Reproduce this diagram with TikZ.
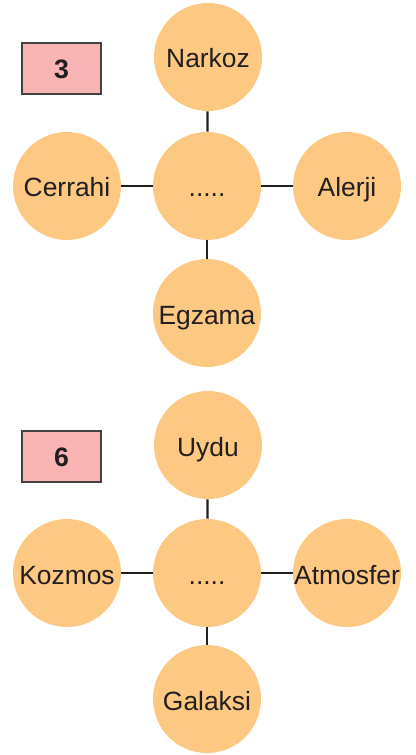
\documentclass[tikz,border=0pt]{standalone}
\usepackage{fontspec}
\setmainfont{Liberation Sans}
\definecolor{peach}{HTML}{FCC882}
\definecolor{pinkbox}{HTML}{F8B5B4}
\definecolor{ink}{HTML}{231F20}
\begin{document}
\begin{tikzpicture}[x=0.75pt,y=-0.75pt,
  bub/.style={circle,fill=peach,minimum size=81pt,inner sep=0pt,text=ink,font=\fontsize{19.8}{22}\selectfont,text height=16.5pt,text depth=0pt},
  numbox/.style={draw=ink!85,line width=0.8pt,fill=pinkbox,minimum width=59.25pt,minimum height=38.25pt,inner sep=0pt,text=ink,font=\fontsize{20}{22}\selectfont\bfseries,text height=14.3pt,text depth=0pt},
  link/.style={draw=ink,line width=1.7pt}]
\useasboundingbox (0,0) rectangle (415,755);
% group 1
\node[numbox] (b1) at (61.5,68.5) {3};
\node[bub] (c1) at (207,186) {.....};
\node[bub] (n1) at (208,57) {Narkoz};
\node[bub] (w1) at (67,186) {Cerrahi};
\node[bub] (e1) at (347,186) {Alerji};
\node[bub] (s1) at (207,313) {Egzama};
\draw[link] (n1) -- (c1);
\draw[link] (w1) -- (c1);
\draw[link] (e1) -- (c1);
\draw[link] (s1) -- (c1);
% group 2
\node[numbox] (b2) at (61.5,456.5) {6};
\node[bub] (c2) at (207,573) {.....};
\node[bub] (n2) at (208,445) {Uydu};
\node[bub] (w2) at (67,573) {Kozmos};
\node[bub] (e2) at (347,573) {Atmosfer};
\node[bub] (s2) at (207,699) {Galaksi};
\draw[link] (n2) -- (c2);
\draw[link] (w2) -- (c2);
\draw[link] (e2) -- (c2);
\draw[link] (s2) -- (c2);
\end{tikzpicture}
\end{document}
